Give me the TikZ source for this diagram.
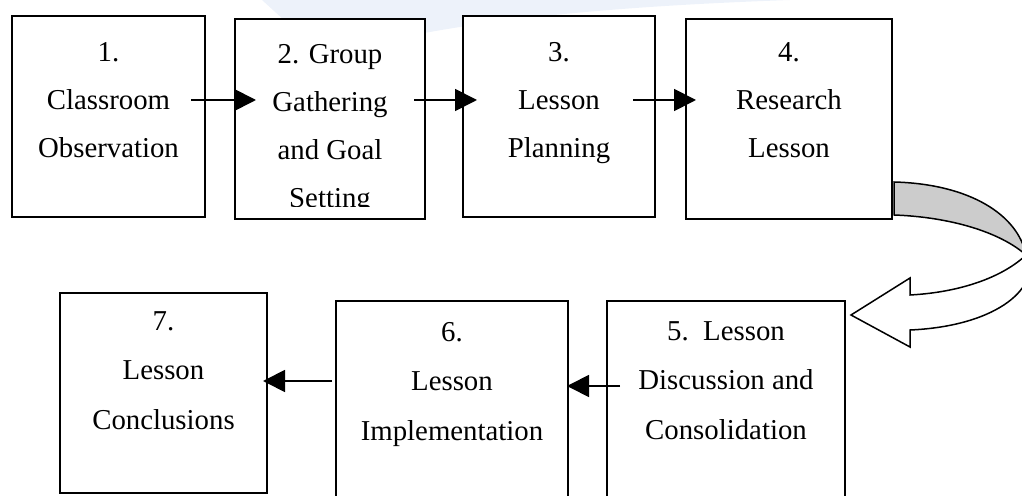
\documentclass[tikz,border=0pt]{standalone}
\usepackage{fontspec}
\setmainfont{Liberation Serif}
\usetikzlibrary{arrows.meta,calc}
\definecolor{BandClr}{rgb}{0.8,0.8,0.8}
\definecolor{MarkClr}{rgb}{0.93,0.95,0.98}

\begin{document}
\begin{tikzpicture}[x=0.5pt,y=-0.5pt,
  stepbox/.style={draw,fill=white,line width=1pt,inner sep=0pt},
  steptext/.style={anchor=north,inner sep=0pt,align=center,
    font=\fontsize{14.4pt}{#1}\selectfont},
  steptext/.default=24pt,
  flow/.style={line width=0.9pt,-{Triangle[length=11pt,width=11pt]}},
  band/.style={line width=0.75pt,line join=miter}]
\useasboundingbox (0,0) rectangle (1022,496);
\clip (0,0) rectangle (1022,496);

% faint mark behind the boxes
\fill[MarkClr] (262,0) .. controls (300,35) and (330,60) .. (350,90) -- (390,90)
  .. controls (375,65) and (370,50) .. (380,42)
  .. controls (500,15) and (650,5) .. (790,0) -- cycle;

% boxes
\node[stepbox,minimum width=96.5pt,minimum height=100.5pt] (b1) at (108.5,116.5) {};
\node[stepbox,minimum width=95pt,minimum height=100pt] (b2) at (330,119) {};
\node[stepbox,minimum width=96pt,minimum height=100.5pt] (b3) at (559,116.5) {};
\node[stepbox,minimum width=103pt,minimum height=100pt] (b4) at (789,119) {};
\node[stepbox,minimum width=103.5pt,minimum height=100pt] (b7) at (163.5,393) {};
\node[stepbox,minimum width=116pt,minimum height=110pt] (b6) at (452,411) {};
\node[stepbox,minimum width=119pt,minimum height=110pt] (b5) at (726,411) {};

% texts
\node[steptext] (t1) at (108.5,42) {1.\\Classroom\\Observation};
\begin{scope}
\clip (235,19) rectangle (425,207);
\node[steptext] (t2) at (330,44) {2. Group\\Gathering\\and Goal\\Setting};
\end{scope}
\node[steptext] (t3) at (559,42) {3.\\Lesson\\Planning};
\node[steptext] (t4) at (789,42) {4.\\Research\\Lesson};
\node[steptext=24.75pt] (t7) at (163.5,311) {7.\\Lesson\\Conclusions};
\node[steptext=24.75pt] (t6) at (452,322) {6.\\Lesson\\Implementation};
\node[steptext=24.75pt] (t5) at (726,321) {5.\ \ Lesson\\Discussion and\\Consolidation};

% arrows
\draw[flow] ($(b1.east)+(-15,-16.5)$) -- ($(b2.west)+(22,-19)$);
\draw[flow] ($(b2.east)+(-12,-19)$) -- ($(b3.west)+(15,-16.5)$);
\draw[flow] ($(b3.east)+(-23,-16.5)$) -- ($(b4.west)+(11,-19)$);
\draw[flow] ($(b5.west)+(14,-25)$) -- ($(b6.east)+(-2,-25)$);
\draw[flow] ($(b6.west)+(-3,-30)$) -- ($(b7.east)+(-5,-12)$);

% curved arrow from 4 to 5
\coordinate (A) at ($(b4.east)+(1,63)$);
\coordinate (B) at ($(b4.east)+(1,96)$);
\coordinate (F) at (1026,255);
\filldraw[band,fill=BandClr] (A) .. controls (970,184) and (1018,215) .. (F)
  .. controls (1000,232) and (950,217) .. (B) -- cycle;
\filldraw[band,fill=white] (F) .. controls (1042,285) and (1000,326) .. (910,330)
  -- (910,347) -- ($(b5.north east)+(5,15)$) -- (910,278) -- (910,295)
  .. controls (965,292) and (1005,275) .. (F) -- cycle;

\end{tikzpicture}
\end{document}
